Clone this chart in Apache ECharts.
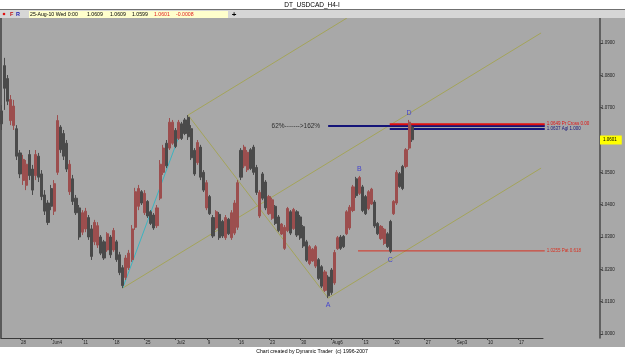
<!DOCTYPE html>
<html><head><meta charset="utf-8">
<script src="https://cdn.jsdelivr.net/npm/echarts@6/dist/echarts.min.js"></script>
<style>html,body{margin:0;padding:0;background:#fff}#c{width:625px;height:355px}</style>
</head><body><div id="c"></div>
<script>
// ---- data (trading days relative to Fri 28-May-2010; 12h candles) ----
const firstBarDay = -3;
const barStepDays = 0.5;
const openP = [
1.0690,1.0830,1.0790,1.0660,1.0645,1.0635,1.0560,1.0475,1.0460,1.0555,
1.0510,1.0490,1.0550,1.0495,1.0430,1.0405,1.0450,1.0380,1.0500,1.0640,
1.0620,1.0590,1.0440,1.0480,1.0420,1.0390,1.0315,1.0325,1.0360,1.0325,
1.0285,1.0275,1.0300,1.0285,1.0260,1.0300,1.0260,1.0285,1.0245,1.0205,
1.0175,1.0205,1.0230,1.0330,1.0395,1.0440,1.0375,1.0410,1.0378,1.0368,
1.0335,1.0420,1.0500,1.0590,1.0575,1.0590,1.0630,1.0605,1.0650,1.0662,
1.0670,1.0635,1.0568,1.0530,1.0578,1.0500,1.0390,1.0425,1.0360,1.0328,
1.0370,1.0348,1.0298,1.0355,1.0298,1.0312,1.0330,1.0568,1.0520,1.0508,
1.0570,1.0578,1.0515,1.0365,1.0495,1.0470,1.0372,1.0358,1.0395,1.0362,
1.0309,1.0265,1.0320,1.0378,1.0326,1.0378,1.0362,1.0332,1.0285,1.0218,
1.0226,1.0210,1.0230,1.0208,1.0135,1.0176,1.0198,1.0158,1.0264,1.0300,
1.0302,1.0310,1.0328,1.0382,1.0480,1.0435,1.0455,1.0425,1.0388,1.0402,
1.0408,1.0342,1.0295,1.0280,1.0310,1.0348,1.0372,1.0405,1.0496,1.0518,
1.0518,1.0575,1.0640];
const closeP = [
1.0650,1.0760,1.0720,1.0725,1.0705,1.0550,1.0495,1.0540,1.0525,1.0490,
1.0445,1.0555,1.0485,1.0425,1.0380,1.0345,1.0395,1.0465,1.0660,1.0570,
1.0550,1.0510,1.0525,1.0410,1.0375,1.0300,1.0375,1.0380,1.0300,1.0240,
1.0345,1.0335,1.0250,1.0235,1.0310,1.0245,1.0320,1.0230,1.0190,1.0150,
1.0235,1.0250,1.0325,1.0440,1.0450,1.0405,1.0435,1.0365,1.0342,1.0328,
1.0390,1.0525,1.0575,1.0520,1.0655,1.0655,1.0580,1.0655,1.0605,1.0620,
1.0610,1.0545,1.0495,1.0592,1.0485,1.0445,1.0468,1.0372,1.0303,1.0378,
1.0298,1.0303,1.0360,1.0310,1.0375,1.0405,1.0468,1.0485,1.0578,1.0562,
1.0512,1.0500,1.0438,1.0438,1.0420,1.0390,1.0425,1.0415,1.0342,1.0320,
1.0340,1.0330,1.0388,1.0312,1.0385,1.0306,1.0297,1.0272,1.0228,1.0270,
1.0262,1.0270,1.0172,1.0148,1.0192,1.0118,1.0128,1.0252,1.0298,1.0265,
1.0270,1.0378,1.0392,1.0455,1.0428,1.0484,1.0382,1.0372,1.0440,1.0448,
1.0334,1.0310,1.0333,1.0324,1.0270,1.0256,1.0410,1.0500,1.0456,1.0450,
1.0570,1.0655,1.0601];
const lowP = [
1.0631,1.0693,1.0708,1.0646,1.0631,1.0538,1.0482,1.0461,1.0445,1.0476,
1.0430,1.0476,1.0470,1.0414,1.0368,1.0337,1.0383,1.0368,1.0492,1.0560,
1.0538,1.0501,1.0430,1.0399,1.0368,1.0291,1.0306,1.0315,1.0291,1.0229,
1.0275,1.0266,1.0244,1.0229,1.0254,1.0235,1.0254,1.0223,1.0182,1.0142,
1.0167,1.0198,1.0223,1.0322,1.0383,1.0399,1.0368,1.0359,1.0337,1.0322,
1.0328,1.0414,1.0492,1.0513,1.0569,1.0585,1.0575,1.0600,1.0600,1.0615,
1.0600,1.0538,1.0489,1.0523,1.0476,1.0439,1.0383,1.0368,1.0297,1.0322,
1.0291,1.0297,1.0291,1.0306,1.0291,1.0306,1.0322,1.0476,1.0513,1.0501,
1.0507,1.0492,1.0430,1.0359,1.0414,1.0383,1.0368,1.0353,1.0337,1.0315,
1.0306,1.0260,1.0315,1.0306,1.0322,1.0300,1.0291,1.0266,1.0223,1.0213,
1.0223,1.0204,1.0167,1.0142,1.0130,1.0111,1.0121,1.0152,1.0260,1.0260,
1.0266,1.0306,1.0322,1.0377,1.0421,1.0430,1.0377,1.0368,1.0383,1.0399,
1.0328,1.0306,1.0291,1.0275,1.0266,1.0250,1.0368,1.0399,1.0452,1.0445,
1.0513,1.0569,1.0594];
const highP = [
1.0708,1.0854,1.0801,1.0739,1.0724,1.0646,1.0569,1.0554,1.0538,1.0569,
1.0523,1.0569,1.0560,1.0507,1.0445,1.0414,1.0461,1.0476,1.0677,1.0646,
1.0631,1.0600,1.0538,1.0492,1.0430,1.0399,1.0383,1.0390,1.0368,1.0337,
1.0353,1.0346,1.0306,1.0291,1.0315,1.0306,1.0328,1.0291,1.0254,1.0213,
1.0244,1.0260,1.0337,1.0452,1.0461,1.0445,1.0445,1.0414,1.0383,1.0374,
1.0399,1.0538,1.0585,1.0600,1.0668,1.0662,1.0637,1.0662,1.0656,1.0668,
1.0677,1.0646,1.0575,1.0600,1.0585,1.0507,1.0476,1.0430,1.0368,1.0383,
1.0377,1.0353,1.0368,1.0359,1.0383,1.0414,1.0476,1.0575,1.0585,1.0569,
1.0575,1.0585,1.0523,1.0445,1.0501,1.0476,1.0430,1.0421,1.0399,1.0368,
1.0343,1.0337,1.0393,1.0383,1.0390,1.0383,1.0368,1.0337,1.0291,1.0275,
1.0266,1.0275,1.0235,1.0213,1.0198,1.0182,1.0204,1.0260,1.0303,1.0306,
1.0306,1.0383,1.0399,1.0461,1.0486,1.0489,1.0461,1.0430,1.0445,1.0452,
1.0414,1.0346,1.0337,1.0328,1.0315,1.0353,1.0414,1.0507,1.0501,1.0523,
1.0575,1.0662,1.0646];

const weekTickDays = [0,5,10,15,20,25,30,35,40,45,50,55,60,65,70,75,80];
const weekTickLabels = ['28','Jun4','11','18','25','Jul2','9','16','23','30','Aug6','13','20','27','Sep3','10','17'];
const priceTicks = [1.00,1.01,1.02,1.03,1.04,1.05,1.06,1.07,1.08,1.09];
const lastPrice = 1.0601;

// drawing tools: [day, price] endpoints
const cyanLine = [[16.5,1.0142],[25.8,1.0625]];
const channelUpper = [[27,1.0677],[52.5,1.0977]];
const channelMid = [[16.5,1.0142],[83.7,1.0931]];
const channelLow = [[49.5,1.0111],[83.7,1.0513]];
const forkLeg = [[27,1.0677],[49.5,1.0111]];

const fibPrices = [1.0643, 1.0649, 1.0634, 1.0257];
const fibFrom = [49.5, 59.4, 59.4, 54.3];
const fibTo = [84.3, 84.3, 84.3, 84.3];
const fibStartText = ['62%------->162%', '', '', ''];
const fibEndText = ['', '1.0649 Pr Cross 0.00', '1.0637 Agl 1.000', '1.0255 Pat 0.618'];

const waveNames = ['A','B','C','D'];
const waveDays = [49.5, 54.5, 59.5, 62.5];
const wavePrices = [1.0111, 1.0489, 1.0250, 1.0662];

// ---- layout helpers ----
const PXD = 6.225;           // px per trading day
const X0 = 20;               // pixel of day 0
const gridTop = 18, gridBottom = 17;
const pxPrice = 0.01 / (291/9);
const yMin = 1.00 - 4*pxPrice, yMax = 1.09 + 25*pxPrice;

const candles = openP.map((o,i)=>[firstBarDay + i*barStepDays, o, closeP[i], lowP[i], highP[i]]);

const FONT = 'Liberation Sans';
function seg(name, pts, color, width){
  return {type:'line', name, xAxisIndex:0, yAxisIndex:0, data:pts, showSymbol:false,
    lineStyle:{color, width}, silent:true, animation:false, clip:true, z:3};
}
const fibColors = ['#141478','#e01010','#141478','#d83020'];
const fibWidths = [2,2,2,1];
const fibSeries = fibPrices.map((p,i)=>({
  type:'line', xAxisIndex:0, yAxisIndex:0, silent:true, animation:false, z:4,
  symbol:'circle', symbolSize:0, showSymbol:true,
  lineStyle:{color:fibColors[i], width:fibWidths[i]},
  data:[
    {value:[fibFrom[i],p], label:{show:!!fibStartText[i], position:'left', distance:8, formatter:fibStartText[i], color:'#303030', fontSize:6.5, fontFamily:FONT}},
    {value:[fibTo[i],p], label:{show:!!fibEndText[i], position:'right', distance:2, formatter:fibEndText[i], color:fibColors[i], fontSize:4.5, fontFamily:FONT}}
  ]
}));

const wavePos = ['bottom','top','bottom','top'];
const waveSeries = {
  type:'scatter', xAxisIndex:0, yAxisIndex:0, symbolSize:0, silent:true, animation:false, z:6,
  data: waveNames.map((n,i)=>({value:[waveDays[i], wavePrices[i]], name:n,
    label:{show:true, position:wavePos[i], distance:3, formatter:n, color:'#2828d8', fontSize:7, fontFamily:FONT}}))
};

const chart = echarts.init(document.getElementById('c'), null, {renderer:'canvas'});
chart.setOption({
  animation:false,
  backgroundColor:'#a8a8a8',
  grid:[
    {left:1, right:25, top:gridTop, bottom:gridBottom},
    {left:1, width:542, top:gridTop, bottom:gridBottom}
  ],
  xAxis:[
    {type:'value', gridIndex:0, min:(1-X0)/PXD, max:(600-X0)/PXD, show:false},
    {type:'value', gridIndex:1, min:(1-X0)/PXD, max:(543-X0)/PXD,
      axisLine:{show:true, onZero:false, lineStyle:{color:'#3a3a3a', width:1}},
      axisTick:{show:true, customValues:weekTickDays, length:2, lineStyle:{color:'#3a3a3a'}},
      axisLabel:{show:true, customValues:weekTickDays, formatter:v=>weekTickLabels[weekTickDays.indexOf(Math.round(v))],
        align:'left', margin:2, fontSize:4.5, color:'#202020', fontFamily:FONT, padding:[0,0,0,1]},
      splitLine:{show:false}}
  ],
  yAxis:[
    {type:'value', gridIndex:0, position:'right', min:yMin, max:yMax,
      axisLine:{show:true, onZero:false, lineStyle:{color:'#484848', width:1.5}},
      axisTick:{show:true, customValues:priceTicks, length:2, lineStyle:{color:'#484848'}},
      axisLabel:{show:true, customValues:priceTicks, formatter:v=>v.toFixed(4), margin:1, fontSize:4.5, color:'#202020', fontFamily:FONT},
      splitLine:{show:false}},
    {type:'value', gridIndex:0, position:'left', min:yMin, max:yMax,
      axisLine:{show:true, onZero:false, lineStyle:{color:'#404040', width:1.5}},
      axisTick:{show:false}, axisLabel:{show:false}, splitLine:{show:false}},
    {type:'value', gridIndex:1, show:false, min:0, max:1}
  ],
  series:[
    seg('channelUpper', channelUpper, '#a4a45a', 1),
    seg('channelMid', channelMid, '#a4a45a', 1),
    seg('channelLow', channelLow, '#a4a45a', 1),
    seg('forkLeg', forkLeg, '#a4a45a', 1),
    seg('cyan', cyanLine, '#3cb4c0', 1),
    {type:'candlestick', xAxisIndex:0, yAxisIndex:0, data:candles, barWidth:2.6, z:5,
      itemStyle:{color:'#9c4e4e', color0:'#4a4a4a', borderColor:'#9c4e4e', borderColor0:'#4a4a4a', borderWidth:1},
      markLine:{silent:true, symbol:'none', animation:false, lineStyle:{color:'rgba(0,0,0,0)', width:0},
        label:{show:true, position:'end', distance:0, formatter:lastPrice.toFixed(4), backgroundColor:'#ffff00', color:'#000', fontSize:4.5, fontFamily:FONT, padding:[2,5,2,3], opacity:1},
        data:[{yAxis:lastPrice}]}},
    ...fibSeries,
    waveSeries
  ],
  graphic:[
    {type:'rect', shape:{x:0,y:0,width:625,height:9}, style:{fill:'#ffffff'}, z:100},
    {type:'rect', shape:{x:0,y:9,width:625,height:1}, style:{fill:'#707070'}, z:100},
    {type:'rect', shape:{x:0,y:10,width:625,height:8}, style:{fill:'#d6d6d6'}, z:100},
    {type:'text', x:312, y:5, style:{text:'DT_USDCAD_H4-I', fill:'#000', font:'6.5px "Liberation Sans"', align:'center', verticalAlign:'middle'}, z:101},
    {type:'circle', shape:{cx:4, cy:14, r:1.3}, style:{fill:'#e01010'}, z:101},
    {type:'text', x:10, y:14.3, style:{text:'F', fill:'#c01010', font:'bold 5.5px "Liberation Sans"', verticalAlign:'middle'}, z:101},
    {type:'text', x:16, y:14.3, style:{text:'R', fill:'#2020b0', font:'bold 5.5px "Liberation Sans"', verticalAlign:'middle'}, z:101},
    {type:'rect', shape:{x:29,y:11,width:199,height:7}, style:{fill:'#ffffcc'}, z:101},
    {type:'text', x:30, y:14.6, style:{text:'25-Aug-10 Wed 0:00', fill:'#000', font:'5.2px "Liberation Sans"', verticalAlign:'middle'}, z:102},
    {type:'text', x:87, y:14.6, style:{text:'1.0609', fill:'#000', font:'5.2px "Liberation Sans"', verticalAlign:'middle'}, z:102},
    {type:'text', x:110, y:14.6, style:{text:'1.0609', fill:'#000', font:'5.2px "Liberation Sans"', verticalAlign:'middle'}, z:102},
    {type:'text', x:132, y:14.6, style:{text:'1.0599', fill:'#000', font:'5.2px "Liberation Sans"', verticalAlign:'middle'}, z:102},
    {type:'text', x:154, y:14.6, style:{text:'1.0601', fill:'#e02020', font:'5.2px "Liberation Sans"', verticalAlign:'middle'}, z:102},
    {type:'text', x:176, y:14.6, style:{text:'-0.0008', fill:'#e02020', font:'5.2px "Liberation Sans"', verticalAlign:'middle'}, z:102},
    {type:'text', x:234, y:14.5, style:{text:'+', fill:'#000', font:'bold 8px "Liberation Sans"', align:'center', verticalAlign:'middle'}, z:102},
    {type:'rect', shape:{x:0,y:347,width:625,height:8}, style:{fill:'#ffffff'}, z:100},
    {type:'text', x:312, y:351.5, style:{text:'Chart created by Dynamic Trader  (c) 1996-2007', fill:'#000', font:'5.2px "Liberation Sans"', align:'center', verticalAlign:'middle'}, z:101}
  ]
});
</script></body></html>
